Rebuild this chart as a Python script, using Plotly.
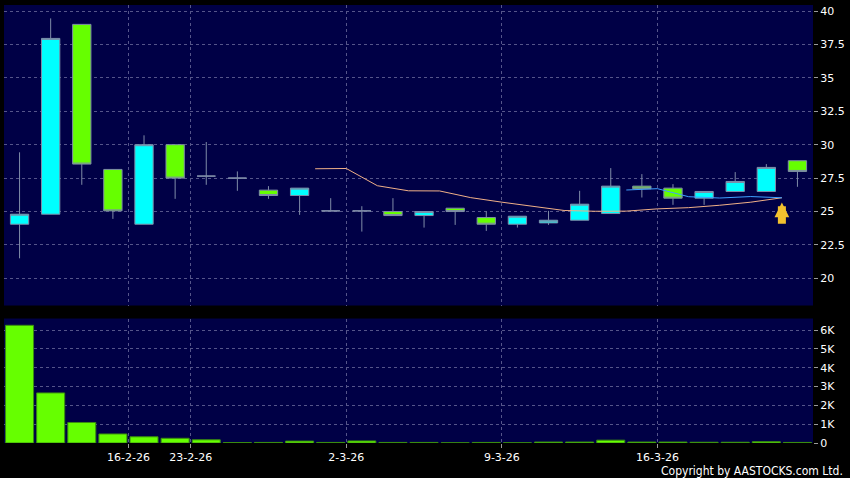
import plotly.graph_objects as go

# ---- data ----
dates = ["11-2-26", "12-2-26", "13-2-26", "16-2-26", "20-2-26", "23-2-26", "24-2-26",
         "25-2-26", "26-2-26", "27-2-26", "2-3-26", "3-3-26", "4-3-26", "5-3-26",
         "6-3-26", "9-3-26", "10-3-26", "11-3-26", "12-3-26", "13-3-26", "16-3-26",
         "17-3-26", "18-3-26", "19-3-26", "20-3-26", "23-3-26"]
opens = [24.05, 24.8, 39.0, 28.15, 24.05, 30.0, 27.65, 27.5, 26.6, 26.2, 25.05, 25.05, 25.0,
         24.7, 25.25, 24.55, 24.05, 24.15, 24.35, 24.85, 26.9, 26.75, 26.0, 26.5, 26.5, 28.8]
highs = [29.43, 39.45, 39.0, 28.15, 30.7, 30.0, 30.2, 28.0, 26.9, 26.75, 26.0, 25.4, 26.0,
         25.0, 25.25, 25.0, 24.65, 25.05, 26.55, 28.25, 27.8, 27.05, 26.5, 27.95, 28.55, 28.8]
lows = [21.5, 24.8, 27.0, 24.45, 24.05, 25.95, 27.0, 26.55, 25.95, 24.75, 25.05, 23.5, 24.7,
        23.8, 24.0, 23.55, 23.8, 24.0, 24.35, 24.85, 26.05, 25.5, 25.5, 26.5, 26.5, 26.85]
closes = [24.8, 37.95, 28.55, 25.05, 30.0, 27.5, 27.65, 27.5, 26.2, 26.75, 25.05, 25.05, 24.7,
          25.0, 25.0, 24.05, 24.65, 24.35, 25.55, 26.9, 26.7, 26.0, 26.5, 27.25, 28.3, 28.0]
volumes = [6250, 2660, 1090, 480, 330, 250, 170, 20, 30, 100, 30, 110, 30, 30, 10, 30, 10,
           50, 50, 150, 50, 50, 40, 40, 70, 30]
# moving averages as drawn (index of the day they belong to, value)
ma10_idx = list(range(9, 25))
ma10_val = [28.20, 28.22, 26.93, 26.55, 26.54, 26.04, 25.70, 25.40, 25.08, 25.02, 25.03,
            25.20, 25.29, 25.47, 25.70, 26.03]
ma20_idx = [19, 20, 21, 22, 23, 24]
ma20_val = [26.61, 26.71, 26.11, 26.01, 26.12, 26.03]
tick_dates = ["16-2-26", "23-2-26", "2-3-26", "9-3-26", "16-3-26"]
price_ticks = [20, 22.5, 25, 27.5, 30, 32.5, 35, 37.5, 40]
vol_ticks = [0, 1000, 2000, 3000, 4000, 5000, 6000]
vol_tick_text = ["0", "1K", "2K", "3K", "4K", "5K", "6K"]
signal_idx = 24  # arrow marker day

# ---- styling ----
BG = "#000046"
GRID = "#55558a"
CYAN = "#00ffff"
LIME = "#66ff00"
EDGE = "#7f8ca8"
FONT = "DejaVu Sans"

x = list(range(len(dates)))
tick_pos = [dates.index(d) + 0.5 for d in tick_dates]

fig = go.Figure()
fig.add_trace(go.Candlestick(
    x=x, open=opens, high=highs, low=lows, close=closes,
    increasing=dict(fillcolor=CYAN, line=dict(color=EDGE, width=1)),
    decreasing=dict(fillcolor=LIME, line=dict(color=EDGE, width=1)),
    whiskerwidth=0, xaxis="x", yaxis="y", showlegend=False, hoverinfo="skip"))
fig.add_trace(go.Scatter(
    x=[i + 0.5 for i in ma10_idx], y=ma10_val, mode="lines",
    line=dict(color="#f0b088", width=1), xaxis="x", yaxis="y", showlegend=False))
fig.add_trace(go.Scatter(
    x=[i + 0.5 for i in ma20_idx], y=ma20_val, mode="lines",
    line=dict(color="#3f9fff", width=1), xaxis="x", yaxis="y", showlegend=False))
fig.add_trace(go.Bar(
    x=x, y=volumes, marker=dict(color=LIME, line=dict(color="#3a8c10", width=1)),
    xaxis="x2", yaxis="y2", showlegend=False))

sig_y = ma20_val[ma20_idx.index(signal_idx)]
fig.add_annotation(
    x=signal_idx + 0.5, y=sig_y - 0.35, ax=signal_idx + 0.5, ay=sig_y - 2.05,
    xref="x", yref="y", axref="x", ayref="y", showarrow=True, text="",
    arrowhead=2, arrowsize=0.37, arrowwidth=8, arrowcolor="#f2c12e")

fig.add_annotation(
    text="Copyright by AASTOCKS.com Ltd.", xref="paper", yref="paper",
    x=1.0396, y=-0.064, xanchor="right", yanchor="middle", showarrow=False,
    font=dict(family="DejaVu Sans Condensed, Liberation Sans Narrow, DejaVu Sans",
              size=12, color="#ffffff"))

xcommon = dict(range=[-0.5, 25.5], tickmode="array", tickvals=tick_pos,
               showgrid=True, gridcolor=GRID, griddash="3px,3px", gridwidth=1,
               zeroline=False, showline=False, fixedrange=True)
ycommon = dict(side="right", showgrid=True, gridcolor=GRID, griddash="3px,3px",
               gridwidth=1, zeroline=False, showline=False, ticks="outside",
               ticklen=4, tickcolor="#9a9a9a", tickfont=dict(family=FONT, size=11, color="#ffffff"))

fig.update_layout(
    width=850, height=478,
    margin=dict(l=4, r=37, t=5, b=35),
    paper_bgcolor="#000000", plot_bgcolor=BG,
    boxgap=0.16, bargap=0.1,
    xaxis=dict(**xcommon, domain=[0, 1], anchor="y", showticklabels=False, ticks="",
               rangeslider=dict(visible=False)),
    yaxis=dict(**ycommon, domain=[0.3139, 1], anchor="x", range=[17.97, 40.45],
               tickvals=price_ticks, ticktext=[f"{v:g}" for v in price_ticks]),
    xaxis2=dict(**xcommon, domain=[0, 1], anchor="y2", ticktext=tick_dates,
                ticks="outside", ticklen=4, tickcolor="#9a9a9a",
                tickfont=dict(family=FONT, size=11, color="#ffffff")),
    yaxis2=dict(**ycommon, domain=[0, 0.2842], anchor="x2", range=[0, 6610],
                tickvals=vol_ticks, ticktext=vol_tick_text),
    font=dict(family=FONT, color="#ffffff"),
)

fig.write_html("out.html", config={"displayModeBar": False},
               post_script="document.body.style.margin='0px';"
                           "document.body.style.background='#000000';")
